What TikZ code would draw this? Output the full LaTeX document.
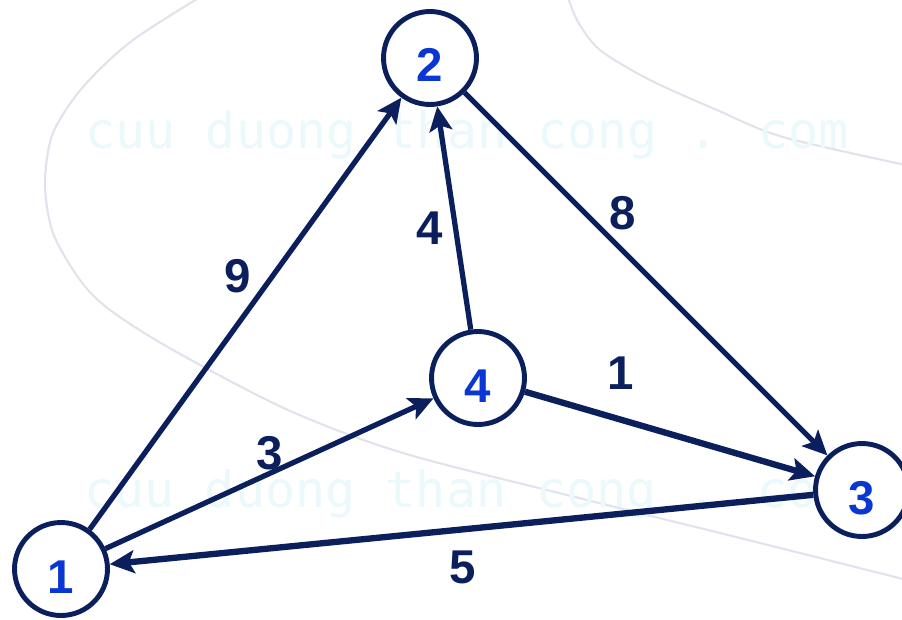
\documentclass[tikz,border=0pt]{standalone}
\usepackage{fontspec}
\setmainfont{Liberation Sans}
\newfontfamily\marcafont{DejaVu Sans Mono}
\usetikzlibrary{arrows.meta}

\definecolor{azulescuro}{HTML}{0A1F5C}
\definecolor{azulnum}{HTML}{0A36D4}
\definecolor{marca}{HTML}{EBF8FC}
\definecolor{traco}{HTML}{E2E2EC}

\tikzset{
  vertice/.style={circle, draw=azulescuro, fill=white, line width=2.8pt,
    minimum size=1.86cm, inner sep=0pt, text=azulnum,
    font=\fontsize{27}{30}\selectfont\bfseries, text height=0.96cm, text depth=0pt},
  peso/.style={text=azulescuro, font=\fontsize{27}{30}\selectfont\bfseries},
  aresta/.style={draw=azulescuro, line width=3pt,
    -{Stealth[length=14pt, width=13pt, inset=3pt]}},
  grossa/.style={aresta, line width=3.6pt}
}

\begin{document}
\begin{tikzpicture}[x=0.02cm, y=-0.02cm]
\useasboundingbox (0,0) rectangle (902,619);

% Fundo
\begin{scope}
  \clip (0,0) rectangle (902,619);
  \draw[traco, line width=1.2pt] plot[smooth] coordinates {(215,-12) (133,40) (83,87) (53,133) (45,183) (53,233) (80,280) (110,310) (173,350) (288,410) (403,453) (575,497) (748,540) (915,582)};
  \draw[traco, line width=1.2pt] plot[smooth] coordinates {(565,-12) (577,20) (600,50) (650,80) (717,110) (783,137) (915,167)};
  \node[marca, anchor=base west, inner sep=0pt, font=\marcafont\fontsize{28.5}{30}\selectfont] (m1) at (85,148) {cuu duong than cong . com};
  \node[marca, anchor=base west, inner sep=0pt, font=\marcafont\fontsize{28.5}{30}\selectfont] (m2) at (84,507) {cuu duong than cong . com};
\end{scope}

% Vertices
\node[vertice] (v1) at (61,569) {1};
\node[vertice] (v2) at (430,58) {2};
\node[vertice] (v3) at (862,490) {3};
\node[vertice] (v4) at (478,378) {4};

% Arestas
\draw[aresta] (v1) -- (v2);
\draw[aresta] (v4) -- (v2);
\draw[aresta] (v2) -- (v3);
\draw[aresta] (v1) -- (v4);
\draw[grossa] (v4) -- (v3);
\draw[grossa] (v3) -- (v1);

% Pesos
\node[peso] (p12) at (238,276) {9};
\node[peso] (p42) at (430,228) {4};
\node[peso] (p23) at (623,213) {8};
\node[peso] (p43) at (621,373) {1};
\node[peso] (p14) at (270,453) {3};
\node[peso] (p31) at (463,567) {5};

\end{tikzpicture}
\end{document}
